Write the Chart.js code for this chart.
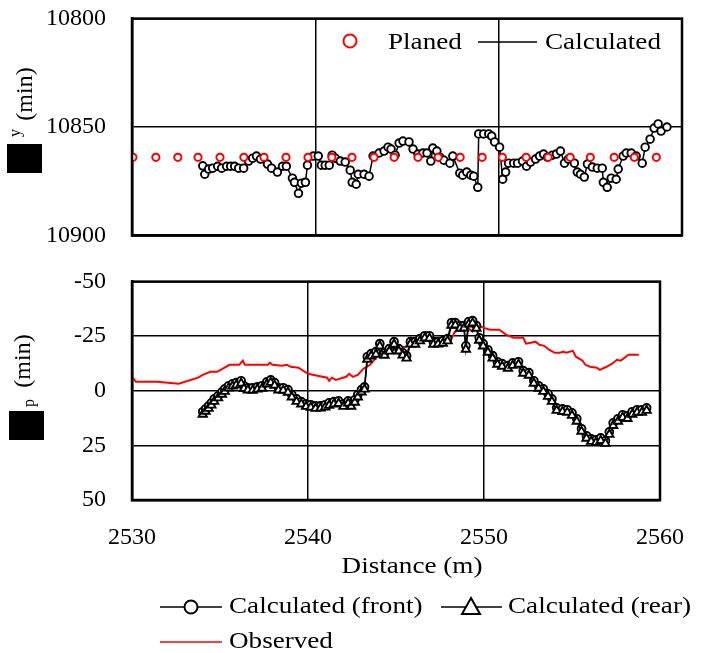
<!DOCTYPE html>
<html><head><meta charset="utf-8">
<script src="https://cdn.jsdelivr.net/npm/chart.js@4.4.1/dist/chart.umd.min.js"></script>
<style>
html,body{margin:0;padding:0;background:#fff;width:707px;height:653px;overflow:hidden;position:relative}
#c1{position:absolute;left:0;top:-8px;width:707px;height:270px}
#c2{position:absolute;left:0;top:255px;width:707px;height:398px}
</style></head><body>
<canvas id="c1" width="707" height="270"></canvas>
<canvas id="c2" width="707" height="398"></canvas>
<script>
// ---------- data ----------
const xTicks = [2530, 2540, 2550, 2560];
const topTicks = [10800, 10850, 10900];
const botTicks = [-50, -25, 0, 25, 50];

const planX = [2530.05, 2531.3, 2532.5, 2533.6, 2534.8, 2536.1, 2537.2, 2538.4, 2539.6, 2540.9, 2542.0, 2543.2, 2544.3, 2545.6, 2546.7, 2547.9, 2549.1, 2550.2, 2551.5, 2552.7, 2553.9, 2555.0, 2556.3, 2557.4, 2558.6];
const planY = [10864, 10864, 10864, 10864, 10864, 10864, 10864, 10864, 10864, 10864, 10864, 10864, 10864, 10864, 10864, 10864, 10864, 10864, 10864, 10864, 10864, 10864, 10864, 10864, 10864];

const calcX = [2533.86, 2533.97, 2534.18, 2534.40, 2534.67, 2534.89, 2535.16, 2535.38, 2535.60, 2535.82,
  2536.09, 2536.36, 2536.58, 2536.79, 2537.01, 2537.39, 2537.61, 2537.93, 2538.21, 2538.42,
  2538.75, 2538.86, 2539.08, 2539.24, 2539.46, 2539.57, 2539.89, 2540.16, 2540.33, 2540.54,
  2540.76, 2540.92, 2541.09, 2541.36, 2541.63, 2541.90, 2542.01, 2542.23, 2542.34, 2542.66,
  2542.93, 2543.15, 2543.48, 2543.75, 2543.97, 2544.13, 2544.35, 2544.57, 2544.78, 2545.11,
  2545.33, 2545.60, 2545.87, 2546.09, 2546.30, 2546.41, 2546.63, 2546.79, 2547.01, 2547.34,
  2547.50, 2547.88, 2548.04, 2548.26, 2548.48, 2548.64, 2548.86, 2548.91, 2549.18, 2549.46,
  2549.62, 2549.78, 2550.05, 2550.22, 2550.38, 2550.54, 2550.82, 2551.03, 2551.30, 2551.52,
  2551.74, 2552.01, 2552.23, 2552.45, 2552.66, 2552.93, 2553.15, 2553.37, 2553.59, 2553.80,
  2554.13, 2554.29, 2554.46, 2554.67, 2554.84, 2555.11, 2555.38, 2555.65, 2555.71, 2555.92,
  2556.14, 2556.41, 2556.52, 2556.79, 2556.96, 2557.23, 2557.50, 2557.83, 2557.99, 2558.26,
  2558.48, 2558.70, 2558.86, 2559.18];
const calcY = [10867.9, 10871.8, 10869.4, 10869.0, 10868.1, 10869.0, 10868.1, 10868.1, 10868.1, 10869.0,
  10869.0, 10865.7, 10864.4, 10863.4, 10864.8, 10867.1, 10869.0, 10870.8, 10868.1, 10868.1,
  10873.6, 10875.5, 10880.6, 10875.9, 10875.5, 10867.6, 10863.4, 10863.4, 10867.6, 10867.6,
  10867.6, 10863.0, 10864.4, 10865.7, 10866.2, 10869.9, 10875.5, 10876.4, 10871.8, 10871.8,
  10872.7, 10863.4, 10862.0, 10861.1, 10859.3, 10860.2, 10863.0, 10857.4, 10856.5, 10856.9,
  10860.2, 10862.5, 10862.0, 10862.0, 10865.7, 10859.7, 10861.1, 10863.9, 10865.3, 10866.7,
  10863.4, 10871.3, 10872.2, 10870.8, 10872.2, 10872.7, 10877.8, 10853.2, 10853.2, 10853.2,
  10854.2, 10856.9, 10859.3, 10874.1, 10870.8, 10866.7, 10866.7, 10866.7, 10865.7, 10868.1,
  10866.2, 10864.8, 10863.4, 10862.5, 10863.9, 10863.0, 10862.5, 10861.1, 10866.7, 10864.8,
  10866.7, 10870.8, 10871.8, 10873.1, 10867.1, 10868.5, 10869.0, 10869.0, 10875.5, 10877.8,
  10873.6, 10874.1, 10869.4, 10863.4, 10862.0, 10862.0, 10863.4, 10866.7, 10859.3, 10855.6,
  10850.5, 10848.6, 10851.9, 10850.0];

const distX = [2534.02, 2534.18, 2534.35, 2534.51, 2534.67, 2534.89, 2535.11, 2535.27, 2535.49, 2535.71,
  2535.92, 2536.20, 2536.36, 2536.58, 2536.85, 2537.12, 2537.39, 2537.66, 2537.88, 2538.10,
  2538.32, 2538.59, 2538.86, 2539.08, 2539.35, 2539.62, 2539.89, 2540.16, 2540.43, 2540.71,
  2540.98, 2541.20, 2541.47, 2541.74, 2542.01, 2542.28, 2542.45, 2542.66, 2542.83, 2543.04,
  2543.21, 2543.37, 2543.59, 2543.86, 2544.08, 2544.35, 2544.62, 2544.89, 2545.16, 2545.38,
  2545.60, 2545.82, 2546.09, 2546.36, 2546.63, 2546.90, 2547.12, 2547.39, 2547.66, 2547.93,
  2548.15, 2548.37, 2548.64, 2548.86, 2548.97, 2549.13, 2549.35, 2549.57, 2549.73, 2549.95,
  2550.22, 2550.49, 2550.76, 2551.03, 2551.36, 2551.63, 2551.96, 2552.23, 2552.55, 2552.83,
  2553.10, 2553.37, 2553.64, 2553.86, 2554.13, 2554.46, 2554.73, 2555.00, 2555.27, 2555.54,
  2555.82, 2556.09, 2556.36, 2556.63, 2556.90, 2557.12, 2557.34, 2557.61, 2557.88, 2558.15,
  2558.42, 2558.70, 2558.97, 2559.24];
const frontY = [9.6, 8.3, 6.9, 5.5, 3.7, 2.3, 0.5, -0.9, -2.3, -3.2,
  -3.7, -4.6, -2.3, -1.4, -1.4, -1.8, -2.3, -4.1, -5.0, -3.7,
  -1.4, -1.4, -0.5, 1.8, 3.7, 5.0, 6.0, 6.4, 6.9, 6.9,
  6.4, 5.5, 5.0, 4.6, 6.0, 4.6, 6.0, 4.1, 1.8, -0.5,
  -1.8, -15.6, -17.0, -17.9, -21.6, -17.4, -19.3, -22.5, -19.3, -17.4,
  -16.1, -22.5, -22.5, -23.9, -25.2, -25.2, -22.5, -22.5, -22.9, -23.9,
  -31.2, -31.2, -29.8, -29.8, -20.6, -31.7, -32.1, -29.8, -24.3, -21.6,
  -18.8, -16.1, -13.3, -12.4, -11.5, -12.8, -13.3, -9.2, -8.3, -4.6,
  -2.3, -0.9, 1.4, 3.7, 7.8, 8.3, 8.7, 10.1, 12.8, 17.4,
  20.6, 22.0, 22.5, 21.6, 22.9, 18.8, 14.7, 12.8, 11.0, 11.5,
  9.6, 8.7, 8.7, 7.8];
const rearY = [10.8, 9.4, 8.1, 6.6, 4.9, 3.3, 1.6, 0.3, -1.2, -2.1,
  -2.6, -3.4, -1.0, -0.3, -0.2, -0.7, -1.1, -3.0, -3.8, -2.5,
  -0.3, -0.2, 0.7, 2.9, 4.9, 6.1, 7.2, 7.6, 8.1, 8.0,
  7.5, 6.7, 6.1, 5.8, 7.2, 5.7, 7.1, 5.3, 2.9, 0.6,
  -0.7, -14.4, -15.9, -16.7, -20.5, -16.2, -18.1, -21.3, -18.2, -16.3,
  -14.9, -21.4, -21.3, -22.8, -24.1, -24.0, -21.3, -21.4, -21.7, -22.8,
  -30.0, -30.1, -28.6, -28.7, -19.0, -30.5, -31.0, -28.6, -23.1, -20.5,
  -17.6, -14.9, -12.1, -11.2, -10.3, -11.6, -12.1, -8.0, -7.1, -3.4,
  -1.1, 0.3, 2.6, 4.9, 9.0, 9.5, 9.9, 11.3, 14.0, 18.6,
  21.8, 23.2, 23.7, 22.8, 24.1, 20.0, 15.9, 14.0, 12.2, 12.7,
  10.8, 9.9, 9.9, 9.0];

const obsX = [2530.05, 2530.22, 2531.41, 2532.66, 2533.75, 2534.02, 2534.46, 2534.84, 2535.54, 2536.09,
  2536.30, 2536.41, 2537.72, 2537.83, 2537.99, 2538.53, 2538.80, 2539.02, 2539.46, 2540.00,
  2540.54, 2541.09, 2541.20, 2541.36, 2541.58, 2542.17, 2542.34, 2542.55, 2542.83, 2543.15,
  2543.53, 2544.18, 2545.00, 2545.54, 2546.79, 2547.45, 2548.15, 2548.32, 2548.70, 2549.13,
  2549.35, 2549.62, 2549.95, 2550.33, 2550.87, 2551.25, 2551.68, 2552.23, 2552.39, 2552.66,
  2552.93, 2553.15, 2553.42, 2553.70, 2554.02, 2554.29, 2554.51, 2554.67, 2555.05, 2555.22,
  2555.60, 2555.76, 2556.03, 2556.41, 2556.58, 2556.96, 2557.28, 2557.55, 2557.77, 2558.21,
  2558.80];
const obsY = [-6.0, -4.1, -4.1, -3.2, -6.0, -7.3, -8.7, -8.7, -11.9, -11.9,
  -13.8, -11.9, -11.9, -12.8, -11.9, -11.5, -11.9, -11.0, -10.6, -7.8,
  -6.9, -6.0, -4.6, -6.0, -5.0, -6.4, -7.8, -6.4, -7.3, -10.1,
  -11.9, -18.3, -19.7, -20.2, -24.8, -23.9, -23.9, -26.6, -29.4, -28.4,
  -27.1, -30.3, -28.9, -28.0, -28.0, -25.7, -24.3, -24.3, -21.6, -22.0,
  -22.5, -21.1, -20.6, -18.8, -17.4, -17.4, -17.9, -17.4, -18.3, -15.6,
  -13.8, -11.9, -11.0, -10.6, -9.6, -11.0, -12.4, -14.2, -13.8, -16.5,
  -16.5];

// ---------- helpers ----------
const FONT = '"Liberation Serif", "Times New Roman", serif';
Chart.defaults.font.family = FONT;
Chart.defaults.color = '#000';
const pts = (xs, ys) => xs.map((x, i) => ({x: x, y: ys[i]}));

function sText(ctx, t, x, y, sx, align) {
  ctx.save(); ctx.translate(x, y); ctx.scale(sx, 1);
  ctx.font = '24px ' + FONT; ctx.fillStyle = '#000';
  ctx.textAlign = align || 'left'; ctx.textBaseline = 'alphabetic';
  ctx.fillText(t, 0, 0); ctx.restore();
}
function vText(ctx, t, x, y, size) {
  ctx.save(); ctx.translate(x, y); ctx.rotate(-Math.PI / 2);
  ctx.font = size + 'px ' + FONT; ctx.fillStyle = '#000';
  ctx.textAlign = 'center'; ctx.textBaseline = 'middle';
  ctx.fillText(t, 0, 0); ctx.restore();
}
const framePlugin = {
  id: 'frame',
  afterDraw(c) {
    const a = c.chartArea, ctx = c.ctx;
    ctx.save(); ctx.strokeStyle = '#000'; ctx.lineWidth = 2.5;
    ctx.strokeRect(a.left, a.top, a.right - a.left, a.bottom - a.top);
    ctx.restore();
  }
};
function xScale(showLabels) {
  return {
    type: 'linear', min: 2530, max: 2560,
    afterBuildTicks: s => { s.ticks = xTicks.map(v => ({value: v})); },
    grid: {color: '#000', lineWidth: 1.5, drawTicks: false},
    border: {color: '#000', width: 2.5},
    ticks: {display: showLabels, padding: 23, font: {size: 24}, color: '#000',
      callback: v => String(v), maxRotation: 0, autoSkip: false},
    afterFit: s => { s.height = showLabels ? 153 : 0; }
  };
}
function yScale(min, max, ticks) {
  return {
    type: 'linear', min: min, max: max, reverse: true,
    afterBuildTicks: s => { s.ticks = ticks.map(v => ({value: v})); },
    grid: {color: '#000', lineWidth: 1.5, drawTicks: false},
    border: {color: '#000', width: 2.5},
    ticks: {padding: 26, font: {size: 24, lineHeight: 0.05}, color: '#000', callback: v => String(v), autoSkip: false},
    afterFit: s => { s.width = 132; }
  };
}
const common = {
  responsive: false, animation: false, events: [],
  plugins: {legend: {display: false}, tooltip: {enabled: false}}
};

// ---------- top chart (canvas shifted up by 8px) ----------
new Chart(document.getElementById('c1'), {
  type: 'line',
  data: {
    datasets: [
      {label: 'Planed', data: pts(planX, planY), showLine: false, order: 0,
       pointStyle: 'circle', pointRadius: 3.6, pointBorderWidth: 2,
       pointBorderColor: '#ff0000', pointBackgroundColor: '#ffffff', borderColor: '#ff0000'},
      {label: 'Calculated', data: pts(calcX, calcY), order: 1, tension: 0,
       borderColor: '#000', borderWidth: 1.5,
       pointStyle: 'circle', pointRadius: 3.8, pointBorderWidth: 1.9,
       pointBorderColor: '#000', pointBackgroundColor: '#ffffff'}
    ]
  },
  options: Object.assign({}, common, {
    layout: {padding: {top: 0, right: 25, bottom: 0, left: 0}},
    scales: {x: xScale(false), y: yScale(10800, 10900, topTicks)}
  }),
  plugins: [framePlugin, {
    id: 'topText',
    afterDraw(c) {
      const ctx = c.ctx;
      vText(ctx, '(min)', 26, 102, 24);
      vText(ctx, 'y', 16, 141, 16);
      ctx.fillStyle = '#000'; ctx.fillRect(7, 152, 35, 29);
      // legend
      ctx.save();
      ctx.strokeStyle = '#ff0000'; ctx.lineWidth = 2;
      ctx.beginPath(); ctx.arc(350, 49, 6.5, 0, Math.PI * 2); ctx.stroke();
      ctx.strokeStyle = '#000'; ctx.lineWidth = 1.5;
      ctx.beginPath(); ctx.moveTo(478, 50); ctx.lineTo(537, 50); ctx.stroke();
      ctx.restore();
      sText(ctx, 'Planed', 388, 57, 1.13);
      sText(ctx, 'Calculated', 545, 57, 1.13);
    }
  }]
});

// ---------- bottom chart (canvas starts at y=255) ----------
new Chart(document.getElementById('c2'), {
  type: 'line',
  data: {
    datasets: [
      {label: 'Calculated (rear)', data: pts(distX, rearY), order: 0, tension: 0,
       borderColor: '#000', borderWidth: 1.5,
       pointStyle: 'triangle', pointRadius: 4.8, pointBorderWidth: 1.9,
       pointBorderColor: '#000', pointBackgroundColor: '#ffffff'},
      {label: 'Calculated (front)', data: pts(distX, frontY), order: 1, tension: 0,
       borderColor: '#000', borderWidth: 1.5,
       pointStyle: 'circle', pointRadius: 3.9, pointBorderWidth: 1.9,
       pointBorderColor: '#000', pointBackgroundColor: '#ffffff'},
      {label: 'Observed', data: pts(obsX, obsY), order: 2, tension: 0,
       borderColor: '#ff0000', borderWidth: 2, pointRadius: 0}
    ]
  },
  options: Object.assign({}, common, {
    layout: {padding: {top: 0, right: 25, bottom: 0, left: 0}},
    scales: {x: xScale(true), y: yScale(-50, 50, botTicks)}
  }),
  plugins: [framePlugin, {
    id: 'botText',
    afterDraw(c) {
      const ctx = c.ctx;
      vText(ctx, '(min)', 24, 106, 24);
      vText(ctx, 'p', 30, 148, 16);
      ctx.fillStyle = '#000'; ctx.fillRect(9, 156, 35, 29);
      sText(ctx, 'Distance (m)', 412, 318, 1.13, 'center');
      ctx.save();
      ctx.strokeStyle = '#000'; ctx.lineWidth = 1.5;
      ctx.beginPath(); ctx.moveTo(160, 352); ctx.lineTo(222, 352); ctx.stroke();
      ctx.beginPath(); ctx.moveTo(441, 352); ctx.lineTo(502, 352); ctx.stroke();
      ctx.fillStyle = '#fff'; ctx.lineWidth = 2;
      ctx.beginPath(); ctx.arc(191, 352, 6.5, 0, Math.PI * 2); ctx.fill(); ctx.stroke();
      ctx.beginPath(); ctx.moveTo(471, 343); ctx.lineTo(480, 359); ctx.lineTo(462, 359); ctx.closePath(); ctx.fill(); ctx.stroke();
      ctx.strokeStyle = '#ff0000'; ctx.lineWidth = 1.5;
      ctx.beginPath(); ctx.moveTo(160, 387); ctx.lineTo(222, 387); ctx.stroke();
      ctx.restore();
      sText(ctx, 'Calculated (front)', 229, 358, 1.13);
      sText(ctx, 'Calculated (rear)', 508, 358, 1.13);
      sText(ctx, 'Observed', 229, 393, 1.13);
    }
  }]
});
</script>
</body></html>
